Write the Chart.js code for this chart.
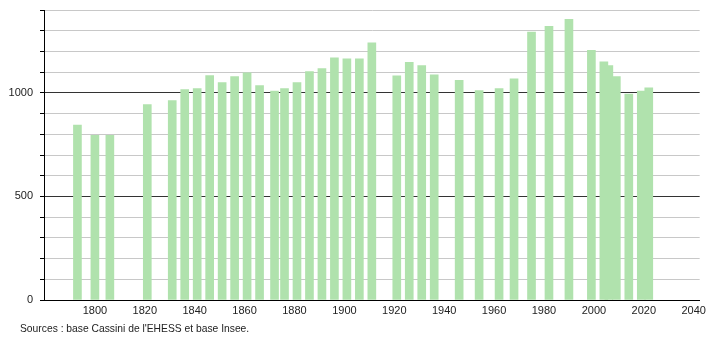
<!DOCTYPE html>
<html>
<head>
<meta charset="utf-8">
<script src="https://cdn.jsdelivr.net/npm/chart.js@4/dist/chart.umd.min.js"></script>
<style>
  html, body { margin: 0; padding: 0; background: #fff; }
  #wrap { position: relative; width: 710px; height: 340px; }
  #c { position: absolute; left: 0; top: 0; }
  #src { position: absolute; left: 20px; top: 323px; font: 10.3px "Liberation Sans", Arial, sans-serif; color: #222; white-space: nowrap; }
</style>
</head>
<body>
<div id="wrap">
  <canvas id="c" width="710" height="340"></canvas>
  <div id="src">Sources : base Cassini de l'EHESS et base Insee.</div>
</div>
<script>
const years = [1793, 1800, 1806, 1821, 1831, 1836, 1841, 1846, 1851, 1856, 1861, 1866, 1872, 1876, 1881, 1886, 1891, 1896, 1901, 1906, 1911, 1921, 1926, 1931, 1936, 1946, 1954, 1962, 1968, 1975, 1982, 1990, 1999, 2004, 2006, 2009, 2014, 2019, 2022];
const population = [845, 795, 795, 943, 963, 1016, 1021, 1084, 1050, 1079, 1097, 1035, 1008, 1021, 1050, 1103, 1117, 1169, 1164, 1164, 1242, 1082, 1147, 1132, 1087, 1060, 1011, 1021, 1068, 1294, 1321, 1355, 1205, 1150, 1132, 1079, 994, 1008, 1024];
const xTickLabels = [1800, 1820, 1840, 1860, 1880, 1900, 1920, 1940, 1960, 1980, 2000, 2020, 2040];
const yTickLabels = [0, 500, 1000];

const points = years.map((y, i) => ({ x: y, y: population[i] }));
const font = { family: '"Liberation Sans", Arial, sans-serif', size: 11 };

new Chart(document.getElementById('c'), {
  type: 'bar',
  data: {
    datasets: [{
      data: points,
      backgroundColor: 'rgb(176,226,173)',
      borderWidth: 0,
      barThickness: 8
    }]
  },
  options: {
    responsive: false,
    animation: false,
    events: [],
    layout: { padding: { left: 0, right: 9, top: 10, bottom: 0 } },
    plugins: { legend: { display: false }, tooltip: { enabled: false } },
    scales: {
      x: {
        type: 'linear',
        offset: false,
        min: 1779.6,
        max: 2042.4,
        afterBuildTicks: s => { s.ticks = xTickLabels.map(v => ({ value: v })); },
        afterFit: s => { s.height = 40; },
        grid: { display: false, offset: false, drawTicks: false },
        border: { display: true, color: '#000', width: 1 },
        ticks: { font: font, color: '#222', padding: 4, maxRotation: 0, autoSkip: false, callback: v => String(v) }
      },
      y: {
        min: 0,
        max: 1400,
        afterFit: s => { s.width = 44; s.paddingTop = 0; },
        ticks: {
          stepSize: 100,
          font: font,
          color: '#222',
          padding: 7,
          callback: v => yTickLabels.includes(v) ? String(v) : ''
        },
        grid: {
          color: c => (c.tick && c.tick.value % 500 === 0) ? '#333' : '#c8c8c8',
          tickColor: '#000',
          tickLength: 4,
          lineWidth: 1
        },
        border: { display: true, color: '#000', width: 1 }
      }
    }
  }
});
</script>
</body>
</html>
